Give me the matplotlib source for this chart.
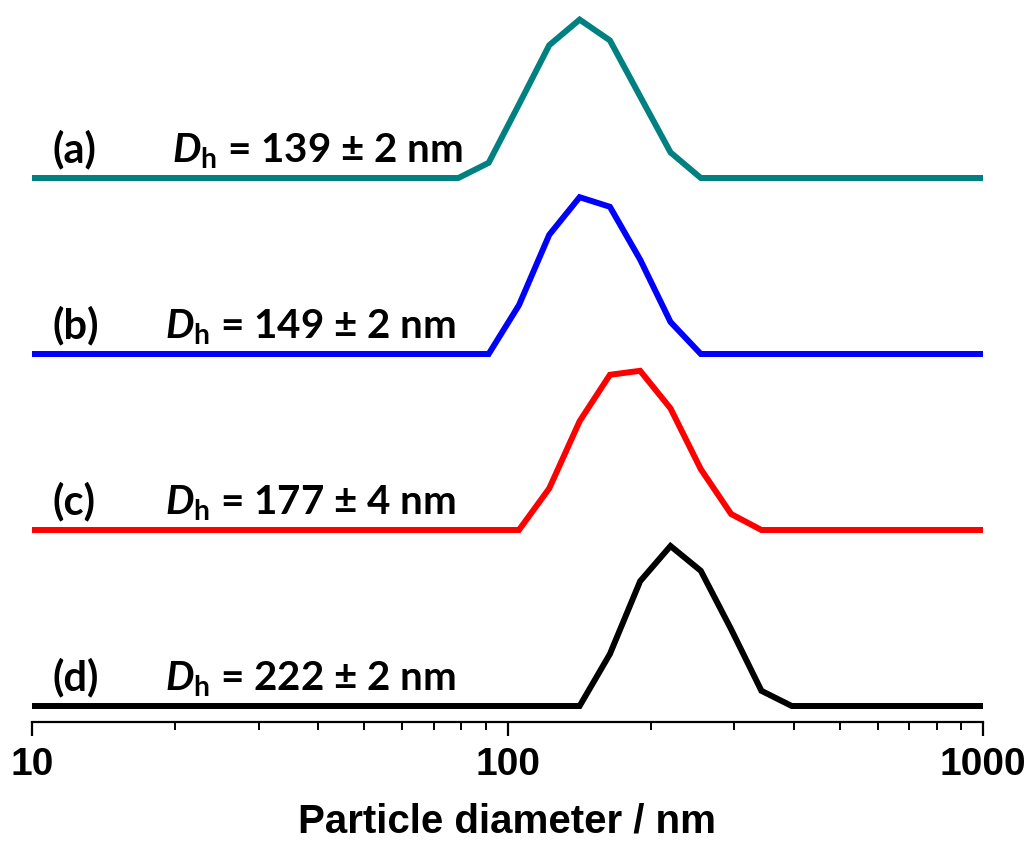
import matplotlib
matplotlib.use('Agg')
import matplotlib.pyplot as plt
from matplotlib.ticker import LogLocator, NullFormatter, FixedFormatter, FixedLocator

# size bins (nm) and intensity values
bins = [78.82, 91.28, 105.7, 122.4, 141.8, 164.2, 190.1, 220.2, 255.0, 295.3, 342.0, 396.1]
int_a = [0, 1.9, 9.2, 16.6, 19.8, 17.2, 10.2, 3.2, 0, 0, 0, 0]
int_b = [0, 0, 6.1, 14.9, 19.6, 18.4, 11.8, 4.0, 0, 0, 0, 0]
int_c = [0, 0, 0, 5.2, 13.6, 19.4, 19.9, 15.2, 7.6, 2.0, 0, 0]
int_d = [0, 0, 0, 0, 0, 6.5, 15.6, 20.0, 16.9, 9.6, 1.9, 0]

labels = ['(a)', '(b)', '(c)', '(d)']
dh = ['139 ± 2', '149 ± 2', '177 ± 4', '222 ± 2']
offsets = [68, 46, 24, 2]
colors = ['#008080', '#0000ff', '#ff0000', '#000000']

plt.rcParams['mathtext.fontset'] = 'custom'
plt.rcParams['mathtext.rm'] = 'Lato:bold'
plt.rcParams['mathtext.it'] = 'Lato:bold:italic'
plt.rcParams['mathtext.bf'] = 'Lato:bold'

fig = plt.figure(figsize=(10.31, 8.48), dpi=100)
ax = fig.add_axes([32/1031, (848-722)/848, 951/1031, 712/848])

xmin, xmax = 10, 1000
for ys, off, c in zip([int_a, int_b, int_c, int_d], offsets, colors):
    xs = [xmin] + bins + [xmax]
    yy = [off] + [v + off for v in ys] + [off]
    ax.plot(xs, yy, color=c, lw=4.3, solid_joinstyle='miter', solid_capstyle='butt')

for lab, d, off, i in zip(labels, dh, offsets, range(4)):
    ax.text(11.07, off + 1.9, lab, fontsize=30, fontweight='bold', family='Lato', va='baseline')
    dx = 19.7 if i == 0 else 19.05
    ax.text(dx, off + 1.9, r'$D_\mathrm{h}$ = ' + d + ' nm', fontsize=29, fontweight='bold',
            family='Lato', va='baseline')

ax.set_xscale('log')
ax.set_xlim(xmin, xmax)
ax.set_ylim(0, 89)
for s in ['left', 'right', 'top']:
    ax.spines[s].set_visible(False)
ax.spines['bottom'].set_linewidth(1.6)
ax.set_yticks([])
ax.xaxis.set_major_locator(FixedLocator([10, 100, 1000]))
ax.xaxis.set_major_formatter(FixedFormatter(['10', '100', '1000']))
ax.xaxis.set_minor_locator(LogLocator(base=10, subs=range(2, 10)))
ax.xaxis.set_minor_formatter(NullFormatter())
ax.tick_params(axis='x', which='major', direction='out', length=10, width=1.6, pad=8)
ax.tick_params(axis='x', which='minor', direction='out', length=5.5, width=1.4)
for t in ax.get_xticklabels():
    t.set_fontsize(28)
    t.set_fontweight('bold')
    t.set_family('Liberation Sans')
ax.set_xlabel('Particle diameter / nm', fontsize=29, fontweight='bold', family='Liberation Sans', labelpad=14)

fig.savefig('out.png', dpi=100)
